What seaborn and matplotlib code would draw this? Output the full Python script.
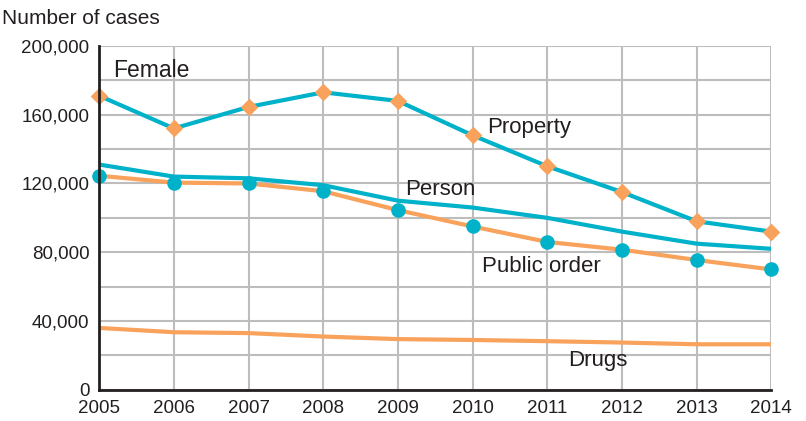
import pandas as pd
import numpy as np
import matplotlib.pyplot as plt
import seaborn as sns

# data (female cases by offense type)
years = [2005, 2006, 2007, 2008, 2009, 2010, 2011, 2012, 2013, 2014]
property_cases = [171000, 152000, 164500, 173000, 168000, 148000, 130000, 115000, 98000, 92000]
person_cases = [131000, 124000, 123000, 119000, 110000, 106000, 100000, 92000, 85000, 82000]
public_order_cases = [124500, 120500, 120000, 115500, 104500, 95000, 86000, 81500, 75500, 70000]
drugs_cases = [36000, 33500, 33000, 31000, 29500, 29000, 28300, 27500, 26500, 26500]

TEAL = "#00b2c9"
ORANGE = "#f8a25c"
INK = "#231f20"

sns.set_style("white")
plt.rcParams["font.family"] = ["Liberation Sans", "DejaVu Sans"]

fig = plt.figure(figsize=(8.06, 4.21), dpi=100)
ax = fig.add_axes([0.123, 0.074, 0.834, 0.817])

# lines
sns.lineplot(x=years, y=drugs_cases, ax=ax, color=ORANGE, linewidth=3, zorder=3)
sns.lineplot(x=years, y=public_order_cases, ax=ax, color=ORANGE, linewidth=3, zorder=3)
sns.lineplot(x=years, y=person_cases, ax=ax, color=TEAL, linewidth=3, zorder=3)
sns.lineplot(x=years, y=property_cases, ax=ax, color=TEAL, linewidth=3, zorder=3)

# markers
sns.scatterplot(x=years, y=public_order_cases, ax=ax, color=TEAL, s=110,
                marker="o", linewidth=0, zorder=4, clip_on=False)
sns.scatterplot(x=years, y=property_cases, ax=ax, color=ORANGE, s=80,
                marker="D", linewidth=0, zorder=4, clip_on=False)

ax.set_xlim(2005, 2014)
ax.set_ylim(0, 200000)
ax.set_xticks(years)
ax.set_xticklabels([str(y) for y in years])
ax.set_yticks(np.arange(0, 200001, 20000))
ax.set_yticklabels([f"{v:,}" if v % 40000 == 0 else "" for v in range(0, 200001, 20000)])

ax.grid(True, color="#bdbdbd", linewidth=1.5, zorder=0)
ax.set_axisbelow(True)
for side in ["top", "right"]:
    ax.spines[side].set_visible(False)
for side in ["left", "bottom"]:
    ax.spines[side].set_color(INK)
    ax.spines[side].set_linewidth(2)
    ax.spines[side].set_zorder(5)

ax.tick_params(axis="both", direction="out", length=6, width=1.5, color=INK,
               labelsize=13.5, labelcolor=INK, pad=1)
ax.set_xlabel("")
ax.set_ylabel("")

# annotations
fig.text(0.003, 0.957, "Number of cases", fontsize=15, color=INK, va="center")
ax.text(2005.19, 185500, "Female", fontsize=16.5, color=INK, va="center")
ax.text(2010.2, 152300, "Property", fontsize=16, color=INK, va="center")
ax.text(2009.1, 116300, "Person", fontsize=16, color=INK, va="center")
ax.text(2010.12, 71500, "Public order", fontsize=16, color=INK, va="center")
ax.text(2011.28, 16900, "Drugs", fontsize=16, color=INK, va="center")

plt.savefig("out.png", dpi=100)
